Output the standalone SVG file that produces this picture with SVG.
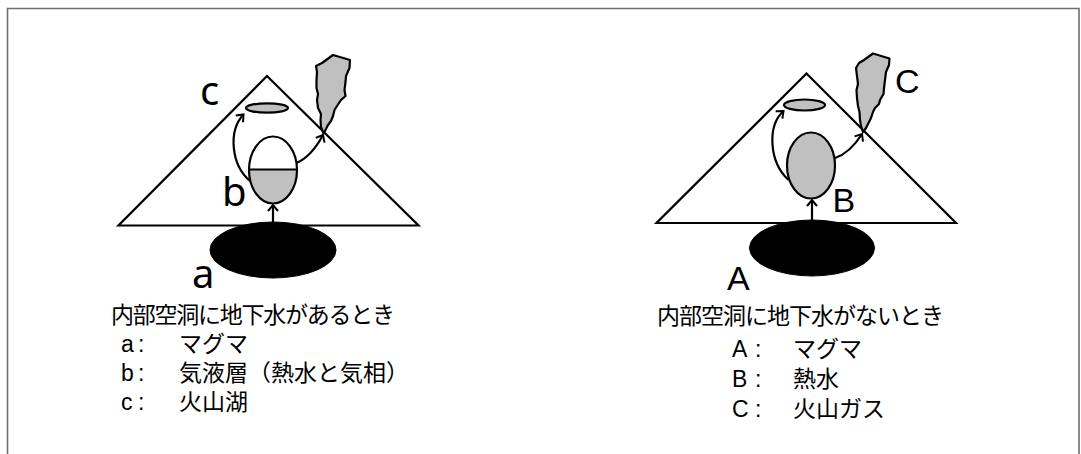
<svg xmlns="http://www.w3.org/2000/svg" width="1081" height="454" viewBox="0 0 1081 454">
  <defs>
    <marker id="open-head" viewBox="-8 -7 10 14" markerWidth="10" markerHeight="14" refX="0" refY="0" orient="auto" markerUnits="userSpaceOnUse">
      <path d="M -6,-5 L 0,0 L -6,5" fill="none" stroke="#000" stroke-width="2"/>
    </marker>
  </defs>
  <style>
    .frame { fill: none; stroke: #6f6f6f; stroke-width: 1.6; }
    .cone { fill: #fff; stroke: #000; stroke-width: 2.2; stroke-linejoin: miter; }
    .magma { fill: #000; stroke: #000; stroke-width: 1; }
    .gray { fill: #c0c0c0; stroke: #000; stroke-width: 2.2; stroke-linejoin: round; }
    .outline { fill: none; stroke: #000; stroke-width: 2.2; }
    .flow { fill: none; stroke: #000; stroke-width: 2.2; marker-end: url(#open-head); }
    .lbl-lc { font-family: "Noto Sans", "Open Sans", sans-serif; font-size: 40px; fill: #000; }
    .lbl-uc { font-family: "Liberation Sans", Arial, sans-serif; font-size: 34px; fill: #000; }
    .jp { font-family: "Noto Sans CJK JP", "Noto Sans CJK SC", sans-serif; font-size: 23px; fill: #000; }
    .lat { font-family: "Liberation Sans", Arial, sans-serif; font-size: 23px; fill: #000; }
  </style>

  <!-- outer frame: top and sides only -->
  <path class="frame" d="M 7.5,454 L 7.5,8.5 L 1079,8.5 L 1079,454"/>

  <!-- ===== left volcano: cavity holding groundwater ===== -->
  <g id="cone-left">
    <polygon class="cone" points="267,76 118.5,225.5 418.5,225.5"/>
  </g>
  <g id="magma-a">
    <ellipse class="magma" cx="273" cy="250" rx="63" ry="28"/>
  </g>
  <g id="cavity-b">
    <ellipse cx="273" cy="170" rx="24" ry="33.5" fill="#fff"/>
    <path d="M 249,169.5 A 24,33.5 0 0 0 297,169.5 Z" fill="#c0c0c0"/>
    <ellipse class="outline" cx="273" cy="170" rx="24" ry="33.5"/>
    <line x1="249" y1="169.5" x2="297" y2="169.5" stroke="#000" stroke-width="2.2"/>
  </g>
  <g id="lake-c">
    <ellipse class="gray" cx="267" cy="108" rx="21" ry="4.7"/>
  </g>
  <g id="plume-left">
    <path class="gray" d="M 333,55 L 350,60 L 349.5,68 L 346,76 L 345.5,82 L 344.5,90 L 345.5,96 L 341,100 L 337,106 L 334.5,110 L 333,116 L 331,121 L 328,125 L 326,129 L 323.5,133.5 L 321,127 L 320.5,120 L 321,114 L 318,108 L 317,100 L 318,94 L 316.5,88 L 316.5,80 L 317,72 L 316,66 L 322,63 Z"/>
  </g>

  <!-- ===== right volcano: cavity without groundwater ===== -->
  <g id="cone-right">
    <polygon class="cone" points="806.5,73.5 656.5,223 956,223"/>
  </g>
  <g id="magma-A">
    <ellipse class="magma" cx="812" cy="248" rx="62.5" ry="28"/>
  </g>
  <g id="cavity-B">
    <ellipse class="gray" cx="811" cy="165.5" rx="24" ry="33"/>
  </g>
  <g id="lake-right">
    <ellipse class="gray" cx="804.5" cy="105" rx="20.5" ry="5.5"/>
  </g>
  <g id="plume-C">
    <path class="gray" d="M 873,53.5 L 889.5,58.5 L 889,65 L 886,72 L 885,80 L 884,88 L 883.5,94 L 880,100 L 879,104 L 875,108 L 873,112 L 871,118 L 868,124 L 866,128 L 863,132 L 861,126 L 860,120 L 859.5,112 L 858,106 L 857,98 L 856.5,90 L 858,84 L 857,76 L 856,68 L 859,63 L 864,60 Z"/>
  </g>

  <!-- flows between the parts -->
  <g id="connectors">
    <path class="flow" d="M 273,222 L 273,205"/>
    <path class="flow" d="M 250,181 C 231,165 228,131 243.5,114.5"/>
    <path class="flow" d="M 296.5,163 C 308,158 316,148 323,135"/>
    <path class="flow" d="M 812,220 L 812,200"/>
    <path class="flow" d="M 788.5,180 C 769,162 767,126 783.5,111"/>
    <path class="flow" d="M 835,158 C 847,154 855,145 862,134"/>
  </g>

  <!-- part labels -->
  <g id="labels">
    <text class="lbl-lc" x="200" y="105">c</text>
    <text class="lbl-lc" x="222" y="206">b</text>
    <text class="lbl-lc" x="192" y="288">a</text>
    <text class="lbl-uc" x="895" y="93">C</text>
    <text class="lbl-uc" x="832.5" y="211.5">B</text>
    <text class="lbl-uc" x="727" y="290">A</text>
  </g>

  <!-- legend, left -->
  <g id="legend-left">
    <text class="jp"><tspan x="111" y="323" textLength="284" lengthAdjust="spacing">内部空洞に地下水があるとき</tspan><tspan class="lat" x="121" y="352">a</tspan><tspan class="lat" x="138" y="352">:</tspan><tspan x="179" y="352">マグマ</tspan><tspan class="lat" x="121" y="381">b</tspan><tspan class="lat" x="138" y="381">:</tspan><tspan x="179" y="381">気液層（熱水と気相）</tspan><tspan class="lat" x="121" y="410">c</tspan><tspan class="lat" x="138" y="410">:</tspan><tspan x="179" y="410">火山湖</tspan></text>
  </g>

  <!-- legend, right -->
  <g id="legend-right">
    <text class="jp"><tspan x="657" y="324" textLength="287" lengthAdjust="spacing">内部空洞に地下水がないとき</tspan><tspan class="lat" x="732" y="357">A</tspan><tspan class="lat" x="755" y="357">:</tspan><tspan x="793" y="357">マグマ</tspan><tspan class="lat" x="732" y="387">B</tspan><tspan class="lat" x="755" y="387">:</tspan><tspan x="793" y="387">熱水</tspan><tspan class="lat" x="732" y="417">C</tspan><tspan class="lat" x="755" y="417">:</tspan><tspan x="793" y="417">火山ガス</tspan></text>
  </g>
</svg>
